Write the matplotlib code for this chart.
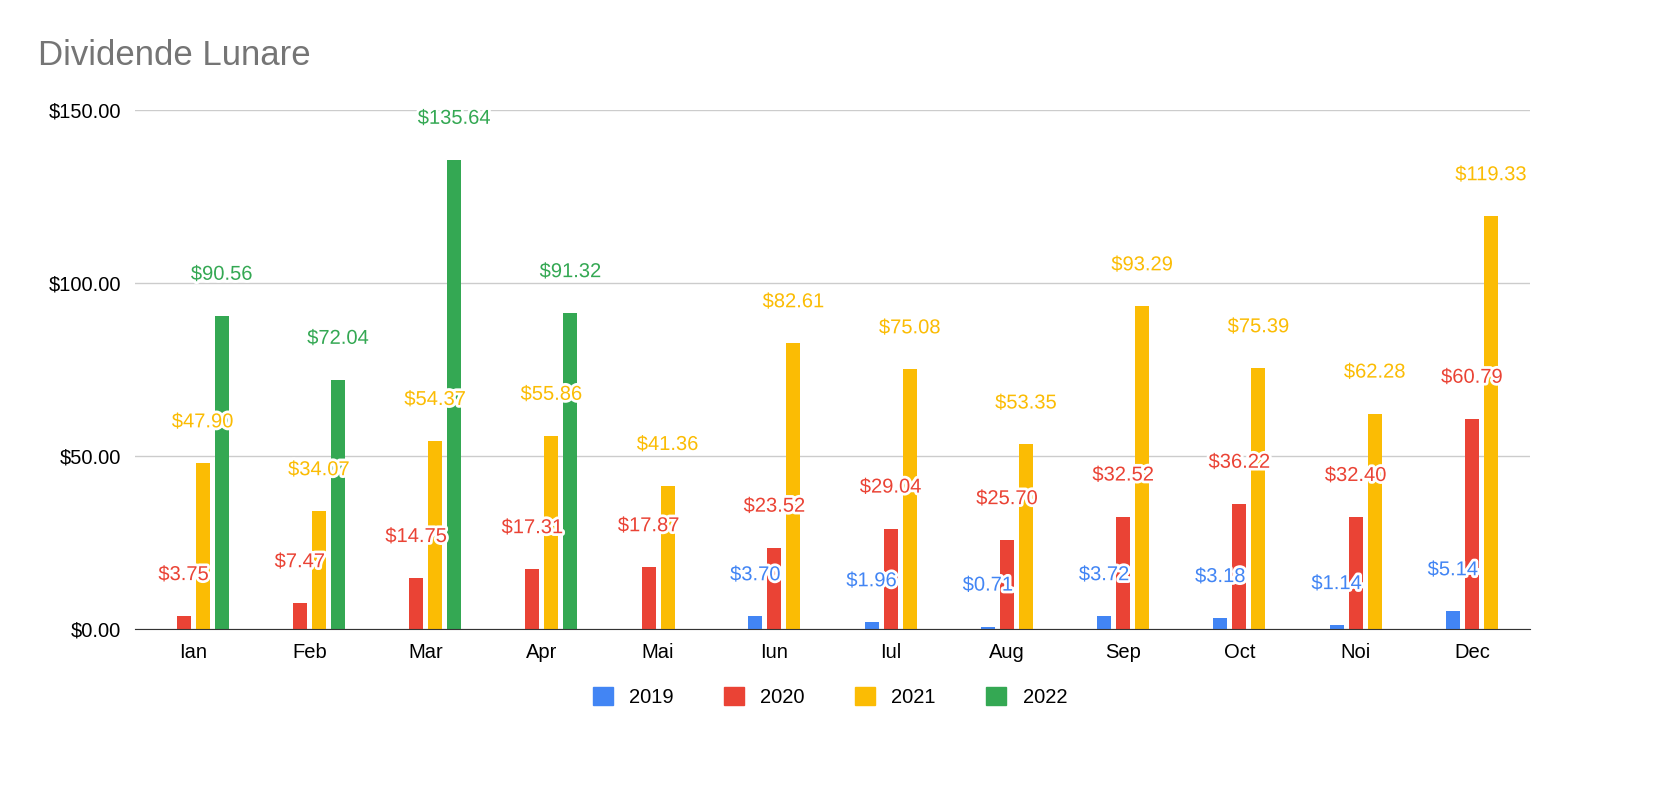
import matplotlib
matplotlib.use("Agg")
import matplotlib.pyplot as plt
import matplotlib.patheffects as pe
import numpy as np

plt.rcParams["font.family"] = ["Liberation Sans", "DejaVu Sans"]

months = ["Ian", "Feb", "Mar", "Apr", "Mai", "Iun", "Iul", "Aug", "Sep", "Oct", "Noi", "Dec"]
years = ["2019", "2020", "2021", "2022"]
colors = ["#4285F4", "#EA4335", "#FBBC04", "#34A853"]
# None = no entry (no slot), 0 = empty slot
v2019 = [0, 0, 0, 0, None, 3.70, 1.96, 0.71, 3.72, 3.18, 1.14, 5.14]
v2020 = [3.75, 7.47, 14.75, 17.31, 17.87, 23.52, 29.04, 25.70, 32.52, 36.22, 32.40, 60.79]
v2021 = [47.90, 34.07, 54.37, 55.86, 41.36, 82.61, 75.08, 53.35, 93.29, 75.39, 62.28, 119.33]
v2022 = [90.56, 72.04, 135.64, 91.32, None, None, None, None, None, None, None, None]
series = [v2019, v2020, v2021, v2022]

fig = plt.figure(figsize=(16.6, 7.92), dpi=100)
ax = fig.add_axes([0.0813, 0.2058, 0.8404, 0.6552])

slot = 0.164
w = 0.12
for i, m in enumerate(months):
    present = [k for k in range(4) if series[k][i] is not None]
    n = len(present)
    for j, k in enumerate(present):
        v = series[k][i]
        x = i + (j - (n - 1) / 2) * slot
        ax.bar(x, v, w, color=colors[k], zorder=3)
        if v > 0:
            ax.annotate(f"${v:.2f}", xy=(x, v), xytext=(0, 23), textcoords="offset points",
                        ha="center", va="bottom", color=colors[k], fontsize=14.5, zorder=4,
                        annotation_clip=False,
                        path_effects=[pe.withStroke(linewidth=4, foreground="white")])

ax.set_xlim(-0.5, 11.5)
ax.set_ylim(0, 150)
ax.set_yticks([0, 50, 100, 150])
ax.set_yticklabels(["$0.00", "$50.00", "$100.00", "$150.00"])
ax.set_xticks(range(12))
ax.set_xticklabels(months)
ax.tick_params(length=0, labelsize=14.5, pad=10)
ax.yaxis.grid(True, color="#cccccc", linewidth=1, zorder=0)
for s in ["top", "right", "left"]:
    ax.spines[s].set_visible(False)
ax.spines["bottom"].set_color("#333333")
ax.spines["bottom"].set_zorder(5)

handles = [plt.Rectangle((0, 0), 1, 1, color=c) for c in colors]
fig.legend(handles, years, loc="center", bbox_to_anchor=(0.5, 0.12), ncol=4, frameon=False,
           fontsize=14.5, handlelength=1.0, handleheight=1.0, columnspacing=2.5)

fig.text(0.023, 0.93, "Dividende Lunare", fontsize=25, color="#757575", va="center")

fig.savefig("out.png", dpi=100)
